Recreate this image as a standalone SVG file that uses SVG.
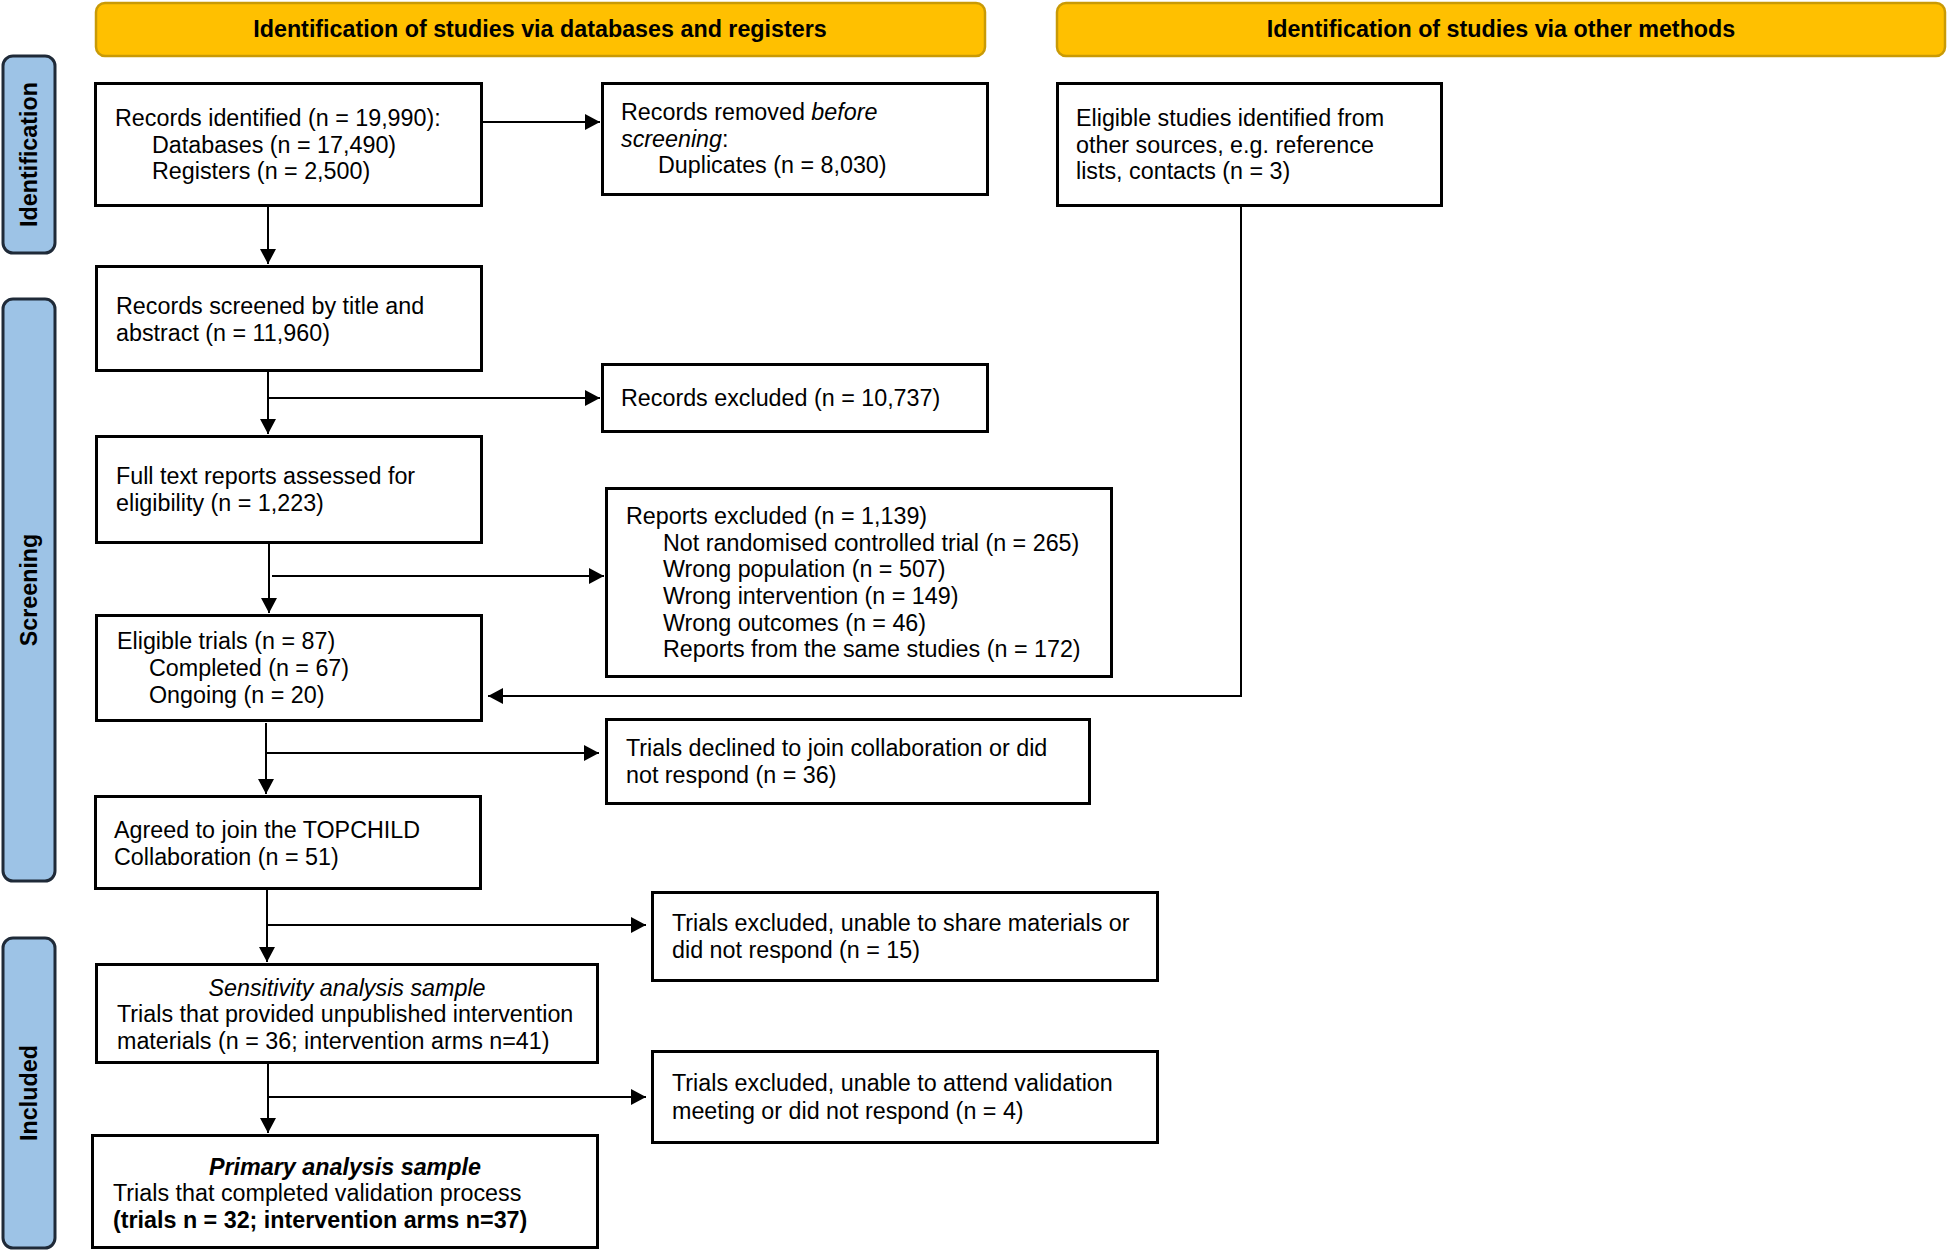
<svg xmlns="http://www.w3.org/2000/svg" width="1948" height="1251" viewBox="0 0 1948 1251">
<defs>
<marker id="ah" viewBox="0 0 10 10" refX="10" refY="5" markerWidth="15" markerHeight="16" markerUnits="userSpaceOnUse" orient="auto" preserveAspectRatio="none">
<path d="M0,0 L10,5 L0,10 z" fill="#000"/>
</marker>
<style>
.hdr{fill:#FFC000;stroke:#C99A06;stroke-width:2.5}
.side{fill:#9DC3E6;stroke:#1F2A38;stroke-width:3}
.box{fill:#fff;stroke:#000;stroke-width:3}
.t{font-family:"Liberation Sans",Arial,sans-serif;font-size:23.3px;fill:#000}
.b{font-weight:bold}
.i{font-style:italic}
.m{text-anchor:middle}
.con{fill:none;stroke:#000;stroke-width:2}
</style>
</defs>
<rect width="1948" height="1251" fill="#fff"/>

<g id="header-db">
<rect class="hdr" x="96" y="3" width="889" height="53" rx="9"/>
<text class="t b m" x="540" y="37">Identification of studies via databases and registers</text>
</g>
<g id="header-other">
<rect class="hdr" x="1057" y="3" width="888" height="53" rx="9"/>
<text class="t b m" x="1501" y="37">Identification of studies via other methods</text>
</g>

<g id="side-identification">
<rect class="side" x="3" y="56" width="52" height="197" rx="10"/>
<text class="t b m" transform="translate(37,154.5) rotate(-90)">Identification</text>
</g>
<g id="side-screening">
<rect class="side" x="3" y="299" width="52" height="582" rx="10"/>
<text class="t b m" transform="translate(37,590) rotate(-90)">Screening</text>
</g>
<g id="side-included">
<rect class="side" x="3" y="938" width="52" height="310" rx="10"/>
<text class="t b m" transform="translate(37,1093) rotate(-90)">Included</text>
</g>

<g id="connectors">
<line class="con" x1="268" y1="207" x2="268" y2="264" marker-end="url(#ah)"/>
<line class="con" x1="483" y1="122" x2="600" y2="122" marker-end="url(#ah)"/>
<line class="con" x1="268" y1="372" x2="268" y2="434" marker-end="url(#ah)"/>
<line class="con" x1="268" y1="398" x2="600" y2="398" marker-end="url(#ah)"/>
<line class="con" x1="269" y1="544" x2="269" y2="613" marker-end="url(#ah)"/>
<line class="con" x1="272" y1="576" x2="604" y2="576" marker-end="url(#ah)"/>
<polyline class="con" points="1241,207 1241,696 488,696" marker-end="url(#ah)"/>
<line class="con" x1="266" y1="723" x2="266" y2="794" marker-end="url(#ah)"/>
<line class="con" x1="266" y1="753" x2="599" y2="753" marker-end="url(#ah)"/>
<line class="con" x1="267" y1="890" x2="267" y2="962" marker-end="url(#ah)"/>
<line class="con" x1="267" y1="925" x2="646" y2="925" marker-end="url(#ah)"/>
<line class="con" x1="268" y1="1064" x2="268" y2="1133" marker-end="url(#ah)"/>
<line class="con" x1="268" y1="1097" x2="646" y2="1097" marker-end="url(#ah)"/>
</g>

<g id="records-identified">
<rect class="box" x="95.5" y="83.5" width="386" height="122"/>
<text class="t" x="115" y="126">Records identified (n = 19,990):</text>
<text class="t" x="152" y="152.5">Databases (n = 17,490)</text>
<text class="t" x="152" y="179">Registers (n = 2,500)</text>
</g>
<g id="records-removed">
<rect class="box" x="602.5" y="83.5" width="385" height="111"/>
<text class="t" x="621" y="120">Records removed <tspan class="i">before</tspan></text>
<text class="t" x="621" y="147"><tspan class="i">screening</tspan>:</text>
<text class="t" x="658" y="173">Duplicates (n = 8,030)</text>
</g>
<g id="other-sources">
<rect class="box" x="1057.5" y="83.5" width="384" height="122"/>
<text class="t" x="1076" y="126">Eligible studies identified from</text>
<text class="t" x="1076" y="152.5">other sources, e.g. reference</text>
<text class="t" x="1076" y="179">lists, contacts (n = 3)</text>
</g>
<g id="records-screened">
<rect class="box" x="96.5" y="266.5" width="385" height="104"/>
<text class="t" x="116" y="314">Records screened by title and</text>
<text class="t" x="116" y="340.5">abstract (n = 11,960)</text>
</g>
<g id="records-excluded">
<rect class="box" x="602.5" y="364.5" width="385" height="67"/>
<text class="t" x="621" y="406">Records excluded (n = 10,737)</text>
</g>
<g id="full-text">
<rect class="box" x="96.5" y="436.5" width="385" height="106"/>
<text class="t" x="116" y="484">Full text reports assessed for</text>
<text class="t" x="116" y="511">eligibility (n = 1,223)</text>
</g>
<g id="reports-excluded">
<rect class="box" x="606.5" y="488.5" width="505" height="188"/>
<text class="t" x="626" y="524">Reports excluded (n = 1,139)</text>
<text class="t" x="663" y="550.5">Not randomised controlled trial (n = 265)</text>
<text class="t" x="663" y="577">Wrong population (n = 507)</text>
<text class="t" x="663" y="604">Wrong intervention (n = 149)</text>
<text class="t" x="663" y="630.5">Wrong outcomes (n = 46)</text>
<text class="t" x="663" y="657">Reports from the same studies (n = 172)</text>
</g>
<g id="eligible-trials">
<rect class="box" x="96.5" y="615.5" width="385" height="105"/>
<text class="t" x="117" y="649">Eligible trials (n = 87)</text>
<text class="t" x="149" y="676">Completed (n = 67)</text>
<text class="t" x="149" y="703">Ongoing (n = 20)</text>
</g>
<g id="trials-declined">
<rect class="box" x="606.5" y="719.5" width="483" height="84"/>
<text class="t" x="626" y="756">Trials declined to join collaboration or did</text>
<text class="t" x="626" y="783">not respond (n = 36)</text>
</g>
<g id="agreed">
<rect class="box" x="95.5" y="796.5" width="385" height="92"/>
<text class="t" x="114" y="838">Agreed to join the TOPCHILD</text>
<text class="t" x="114" y="864.5">Collaboration (n = 51)</text>
</g>
<g id="excluded-materials">
<rect class="box" x="652.5" y="892.5" width="505" height="88"/>
<text class="t" x="672" y="931">Trials excluded, unable to share materials or</text>
<text class="t" x="672" y="958">did not respond (n = 15)</text>
</g>
<g id="sensitivity-sample">
<rect class="box" x="96.5" y="964.5" width="501" height="98"/>
<text class="t i m" x="347" y="996">Sensitivity analysis sample</text>
<text class="t" x="117" y="1022">Trials that provided unpublished intervention</text>
<text class="t" x="117" y="1049">materials (n = 36; intervention arms n=41)</text>
</g>
<g id="excluded-validation">
<rect class="box" x="652.5" y="1051.5" width="505" height="91"/>
<text class="t" x="672" y="1091">Trials excluded, unable to attend validation</text>
<text class="t" x="672" y="1118.5">meeting or did not respond (n = 4)</text>
</g>
<g id="primary-sample">
<rect class="box" x="92.5" y="1135.5" width="505" height="112"/>
<text class="t b i m" x="345" y="1175">Primary analysis sample</text>
<text class="t" x="113" y="1201">Trials that completed validation process</text>
<text class="t b" x="113" y="1228">(trials n = 32; intervention arms n=37)</text>
</g>
</svg>
